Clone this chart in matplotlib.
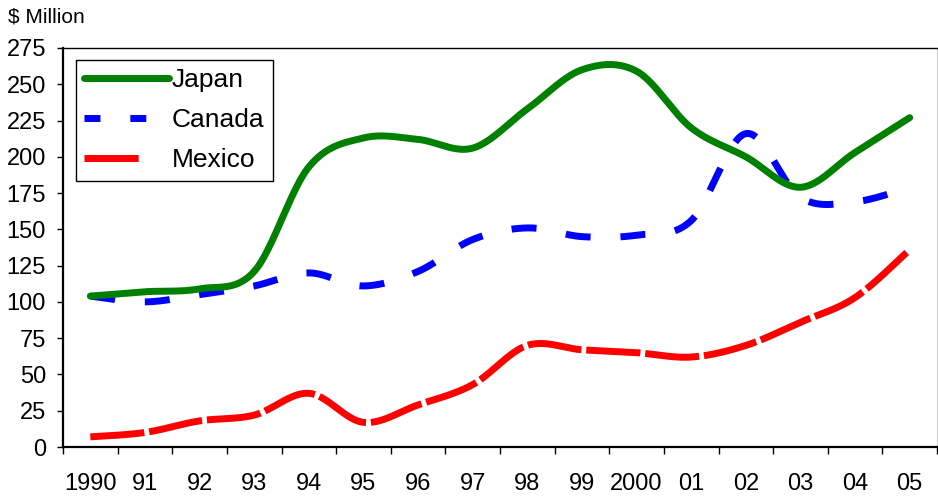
import numpy as np
import matplotlib
matplotlib.use("Agg")
import matplotlib.pyplot as plt
from matplotlib.lines import Line2D

plt.rcParams['font.family'] = ['Liberation Sans', 'DejaVu Sans']

years = ["1990", "91", "92", "93", "94", "95", "96", "97", "98", "99",
         "2000", "01", "02", "03", "04", "05"]
japan = [104, 107, 109, 121, 193, 213, 212, 206, 233, 260, 259, 220, 200, 179, 203, 227]
canada = [104, 100, 105, 111, 120, 111, 121, 143, 151, 145, 146, 156, 216, 172, 169, 179]
mexico = [7, 10, 18, 22, 37, 17, 29, 43, 70, 67, 65, 62, 70, 86, 103, 136]
y_ticks = [0, 25, 50, 75, 100, 125, 150, 175, 200, 225, 250, 275]


def smooth(xs, ys, n=40):
    """Catmull-Rom smoothing through every data point."""
    xs = np.asarray(xs, float)
    ys = np.asarray(ys, float)
    px = np.concatenate([[xs[0]], xs, [xs[-1]]])
    py = np.concatenate([[ys[0]], ys, [ys[-1]]])
    out_x, out_y = [], []
    for i in range(1, len(px) - 2):
        p0, p1, p2, p3 = (np.array([px[j], py[j]]) for j in (i - 1, i, i + 1, i + 2))
        t = np.linspace(0, 1, n, endpoint=(i == len(px) - 3))[:, None]
        m1 = (p2 - p0) / 2
        m2 = (p3 - p1) / 2
        h00 = 2 * t**3 - 3 * t**2 + 1
        h10 = t**3 - 2 * t**2 + t
        h01 = -2 * t**3 + 3 * t**2
        h11 = t**3 - t**2
        pts = h00 * p1 + h10 * m1 + h01 * p2 + h11 * m2
        out_x.extend(pts[:, 0])
        out_y.extend(pts[:, 1])
    return np.array(out_x), np.array(out_y)


fig = plt.figure(figsize=(9.38, 4.96), dpi=100)
ax = fig.add_axes([63 / 938, 49 / 496, 874 / 938, 399 / 496])

x = np.arange(len(years)) + 0.5

sx, sy = smooth(x, japan)
ax.plot(sx, sy, color='#008000', lw=5, solid_capstyle='round', zorder=3)
sx, sy = smooth(x, canada)
ax.plot(sx, sy, color='#0000FF', lw=5, dashes=(3.6, 4.3), dash_capstyle='butt', zorder=2)
sx, sy = smooth(x, mexico)
ax.plot(sx, sy, color='#FF0000', lw=5, dashes=(7.8, 0.7), dash_capstyle='butt', zorder=2)

ax.set_xlim(0, len(years))
ax.set_ylim(0, 275)
ax.set_yticks(y_ticks)
ax.set_yticklabels([str(v) for v in y_ticks], fontsize=17)
ax.tick_params(axis='y', length=4.3, width=1, direction='out', pad=8)

ax.set_xticks(np.arange(len(years) + 1))
ax.set_xticklabels([])
ax.set_xticks(x, minor=True)
ax.set_xticklabels(years, minor=True, fontsize=17)
ax.tick_params(axis='x', which='major', length=5, width=1, direction='out')
ax.tick_params(axis='x', which='minor', length=0, pad=19)

for side in ('left', 'bottom'):
    ax.spines[side].set_linewidth(1.6)
ax.spines['top'].set_linewidth(1.0)
ax.spines['right'].set_color('#d0d0d0')
ax.spines['right'].set_linewidth(0.8)

fig.text(8 / 938, 1 - 17 / 496, '$ Million', fontsize=15, va='center', ha='left')

# legend keys: short dash pairs for Canada, a single long dash for Mexico
handles = [
    Line2D([], [], color='#008000', lw=5, solid_capstyle='round'),
    Line2D([], [], color='#0000FF', lw=5, dashes=(2.3, 4.3), dash_capstyle='butt'),
    Line2D([], [], color='#FF0000', lw=5, dashes=(7.8, 20.0), dash_capstyle='butt'),
]
leg = ax.legend(handles, ['Japan', 'Canada', 'Mexico'],
                loc='upper left', bbox_to_anchor=(13 / 874, 1 - 12 / 399),
                borderaxespad=0, fontsize=19, frameon=True, fancybox=False,
                edgecolor='black', framealpha=1, handlelength=3.2,
                labelspacing=0.6, borderpad=0.32, handletextpad=0.1)
leg.get_frame().set_linewidth(1.0)

fig.savefig('out.png', dpi=100)
